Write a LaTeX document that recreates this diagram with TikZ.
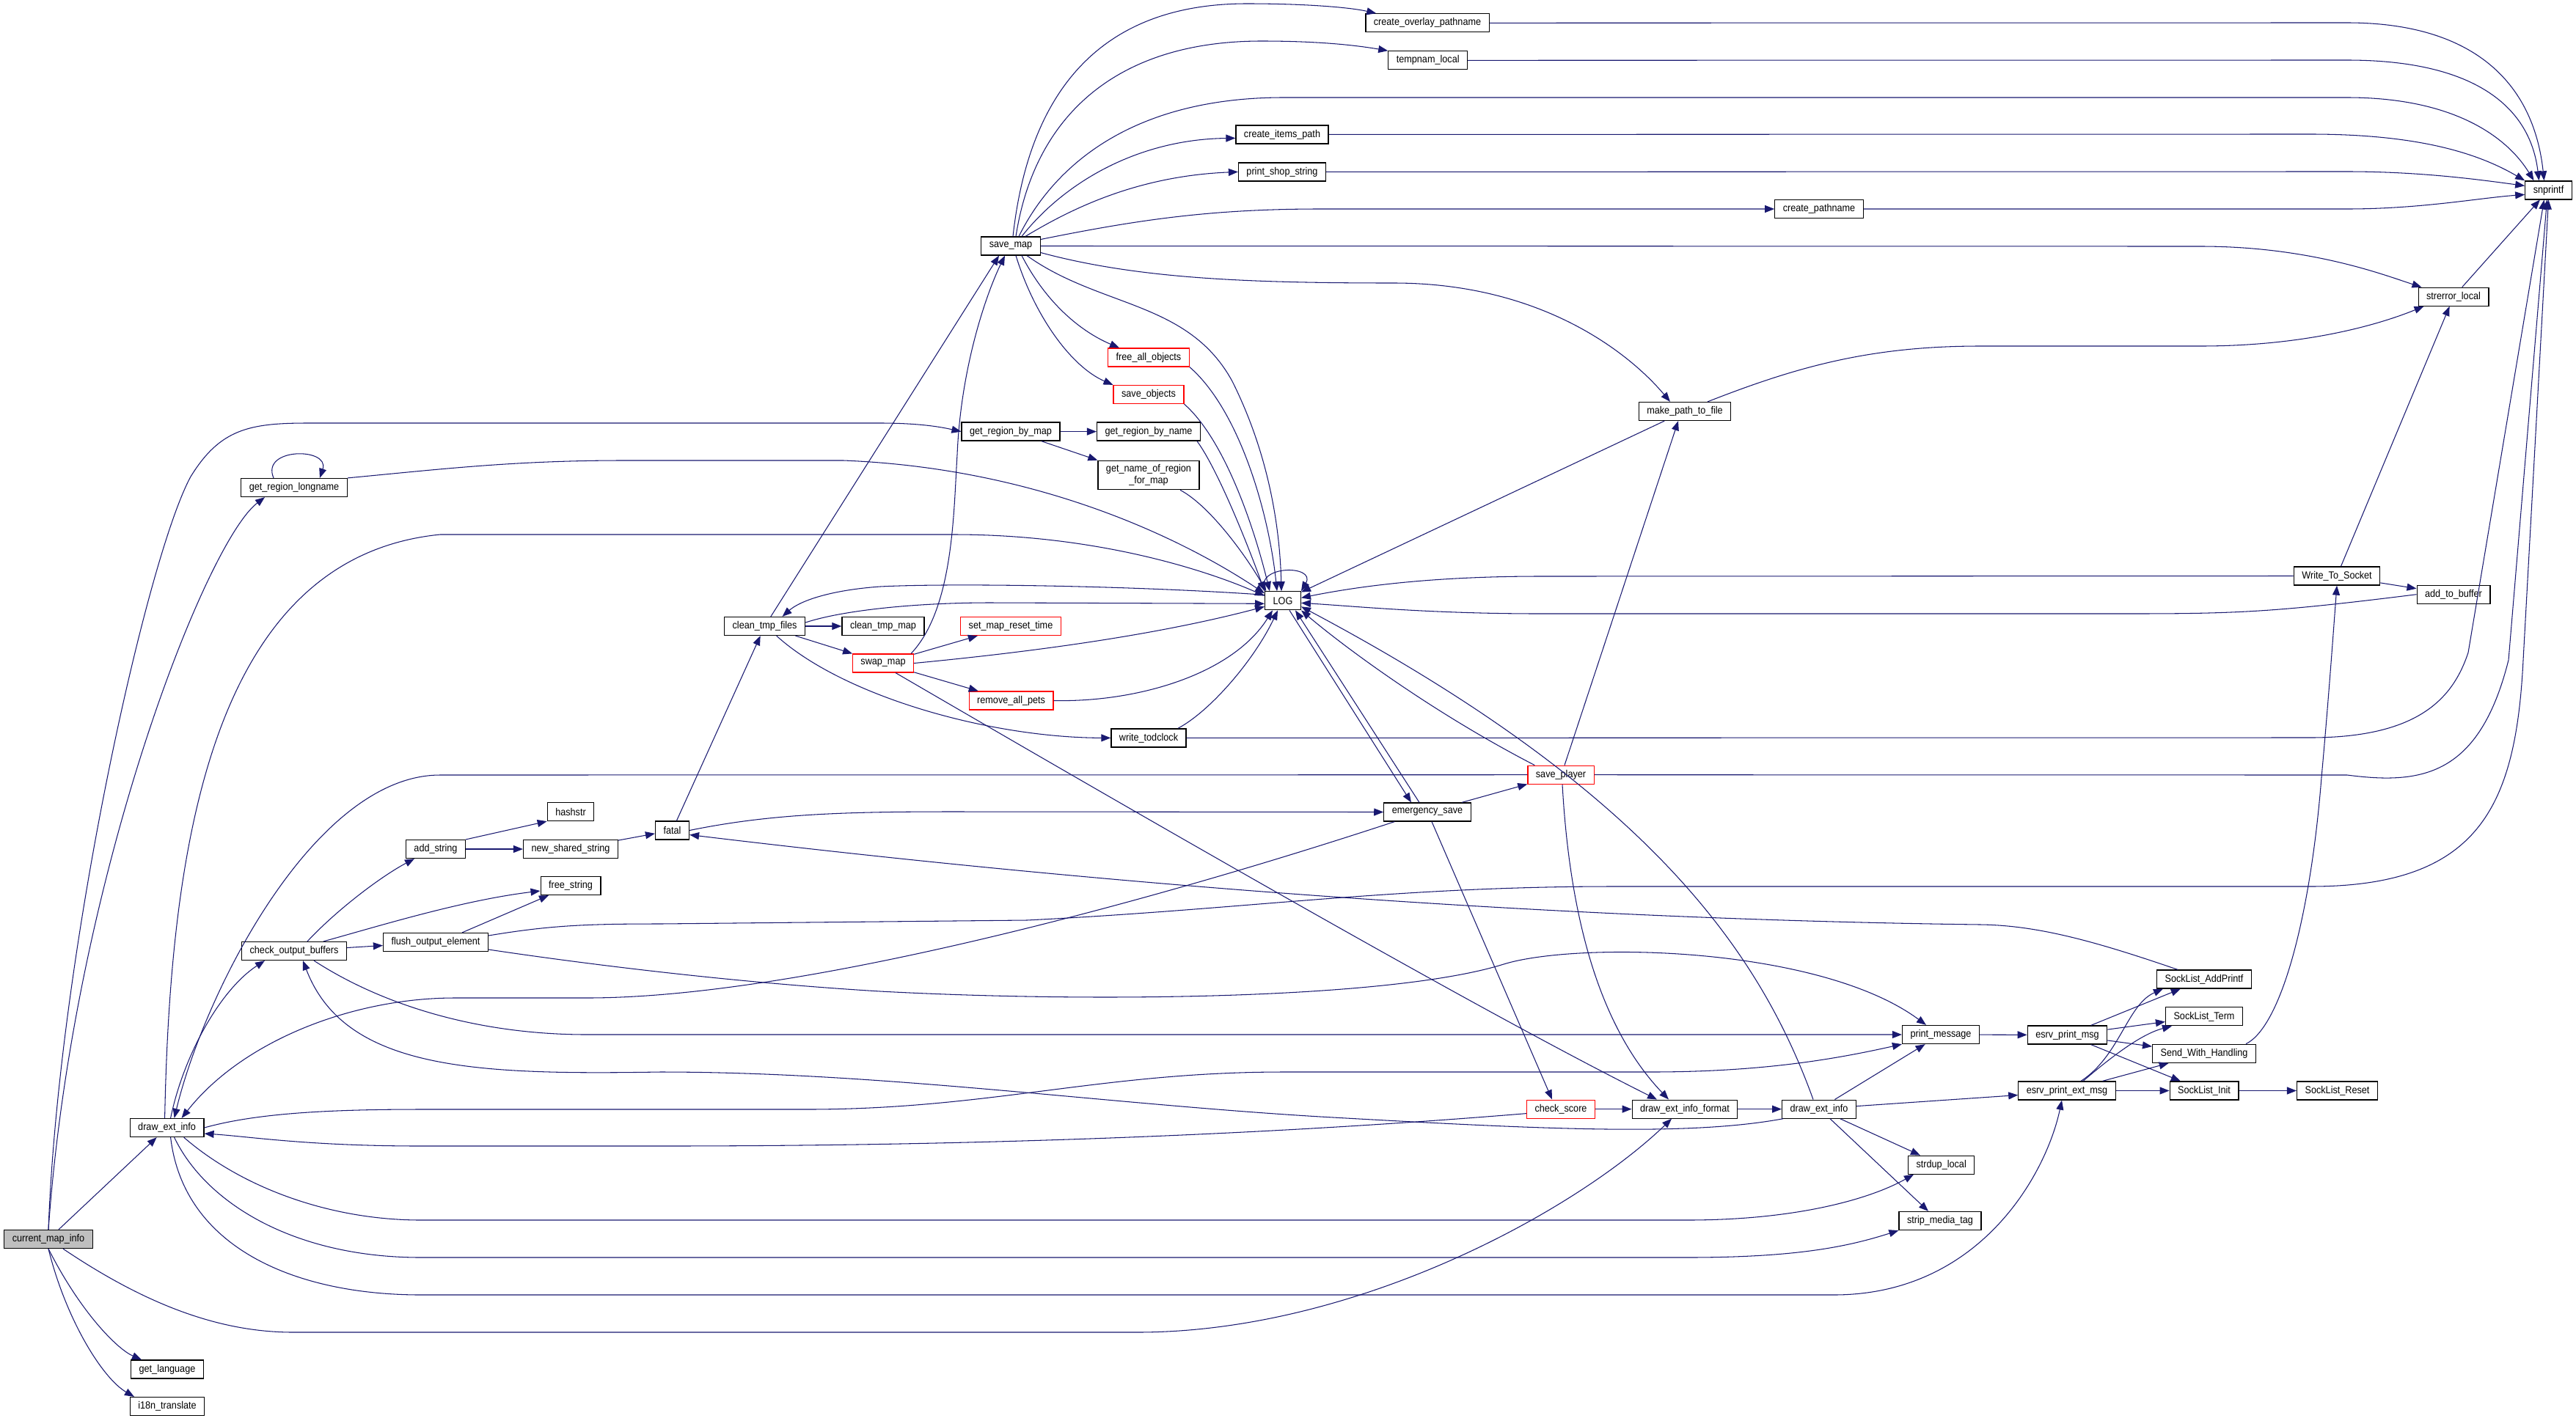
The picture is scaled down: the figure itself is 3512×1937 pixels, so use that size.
\documentclass[tikz,border=0pt]{standalone}
\usepackage{fontspec}
\newfontfamily\docfont[FakeStretch=0.9]{Liberation Sans}
\usepackage{tikz}
\usetikzlibrary{arrows.meta, calc}
\definecolor{edgeblue}{HTML}{191970}

\begin{document}
\begin{tikzpicture}[
      x=0.02cm, y=-0.02cm,
      fn/.style={
          rectangle,
          draw,
          line width=0.7pt,
          align=center,
          inner xsep=0.22cm,
          inner ysep=3pt,
          minimum height=0.5cm,
          fill=white,
          font={\docfont\fontsize{8pt}{9pt}\selectfont}
        },
      fnred/.style={
          fn,
          draw=red
        },
      fnmain/.style={
          fn,
          fill=gray!50
        },
      call/.style={
          -{Triangle[length=0.26cm,width=0.2cm]},
          draw=edgeblue,
          line width=0.6pt
        }
    ]
    \useasboundingbox (0,0) rectangle (3512,1937);

    % Nodes
    \node[fnmain] (cmi) at (66,1690) {current\_map\_info};
    \node[fn] (dei) at (227.6,1538) {draw\_ext\_info};
    \node[fn] (lang) at (228,1867.5) {get\_language};
    \node[fn] (itr) at (228,1918) {i18n\_translate};
    \node[fn] (grl) at (401,665) {get\_region\_longname};
    \node[fn] (cob) at (401,1297) {check\_output\_buffers};
    \node[fn] (adds) at (594,1158) {add\_string};
    \node[fn] (foe) at (594,1285) {flush\_output\_element};
    \node[fn] (hash) at (778,1107) {hashstr};
    \node[fn] (nss) at (778,1158) {new\_shared\_string};
    \node[fn] (frees) at (778,1208) {free\_string};
    \node[fn] (fatal) at (916.5,1132.5) {fatal};
    \node[fn] (ctf) at (1042.6,854) {clean\_tmp\_files};
    \node[fn] (ctm) at (1204,854) {clean\_tmp\_map};
    \node[fnred] (swap) at (1204,904.5) {swap\_map};
    \node[fn] (savemap) at (1378,335.5) {save\_map};
    \node[fn] (grbm) at (1378,588.6) {get\_region\_by\_map};
    \node[fnred] (smrt) at (1378,854) {set\_map\_reset\_time};
    \node[fnred] (rap) at (1378.6,955.5) {remove\_all\_pets};
    \node[fnred] (fao) at (1566,487.5) {free\_all\_objects};
    \node[fnred] (sobj) at (1566,538) {save\_objects};
    \node[fn] (grbn) at (1566,588.6) {get\_region\_by\_name};
    \node[fn] (gnor) at (1566,648) {get\_name\_of\_region\\\_for\_map};
    \node[fn] (wtc) at (1566,1006.4) {write\_todclock};
    \node[fn] (log) at (1749,819.3) {LOG};
    \node[fn] (cip) at (1748,183.4) {create\_items\_path};
    \node[fn] (pss) at (1748,234.4) {print\_shop\_string};
    \node[fn] (cop) at (1946,31.3) {create\_overlay\_pathname};
    \node[fn] (tnl) at (1946.7,82.3) {tempnam\_local};
    \node[fn] (esave) at (1946,1107.5) {emergency\_save};
    \node[fnred] (splayer) at (2128,1056.7) {save\_player};
    \node[fnred] (cscore) at (2128,1512.6) {check\_score};
    \node[fn] (mptf) at (2297,561) {make\_path\_to\_file};
    \node[fn] (deif) at (2297,1512.6) {draw\_ext\_info\_format};
    \node[fn] (cpn) at (2480,285) {create\_pathname};
    \node[fn] (dei2) at (2480,1512.6) {draw\_ext\_info};
    \node[fn] (pmsg) at (2646,1411) {print\_message};
    \node[fn] (sdl) at (2646.7,1588.7) {strdup\_local};
    \node[fn] (smt) at (2645,1665) {strip\_media\_tag};
    \node[fn] (epm) at (2818.5,1411.5) {esrv\_print\_msg};
    \node[fn] (epem) at (2818,1487.5) {esrv\_print\_ext\_msg};
    \node[fn] (slap) at (3005,1335.5) {SockList\_AddPrintf};
    \node[fn] (slt) at (3005,1386.3) {SockList\_Term};
    \node[fn] (swh) at (3005,1436.8) {Send\_With\_Handling};
    \node[fn] (sli) at (3005,1487.5) {SockList\_Init};
    \node[fn] (wts) at (3186,785.5) {Write\_To\_Socket};
    \node[fn] (slr) at (3186.5,1487.5) {SockList\_Reset};
    \node[fn] (serr) at (3345,404.7) {strerror\_local};
    \node[fn] (atb) at (3345,810.7) {add\_to\_buffer};
    \node[fn] (snp) at (3474.5,259.4) {snprintf};

    % Calls of current_map_info
    \draw[call] (cmi.north) .. controls (80,1300) and (200,760) .. (260,650) .. controls (300,585) and (340,577) .. (420,577) -- (1200,577) .. controls (1260,577) and (1290,584) .. (grbm.west);
    \draw[call] (cmi.north) .. controls (100,1200) and (280,740) .. ($(grl.south)+(-40,0)$);
    \draw[call] (cmi) -- (dei);
    \draw[call] (cmi.south) .. controls (110,1790) and (160,1840) .. ($(lang.north)+(-35,0)$);
    \draw[call] (cmi.south) .. controls (90,1800) and (140,1880) .. ($(itr.north)+(-45,0)$);
    \draw[call] ($(cmi.south)+(20,0)$) .. controls (200,1780) and (300,1817) .. (400,1817) -- (1550,1817) .. controls (1850,1817) and (2150,1650) .. ($(deif.south)+(-18,0)$);

    % Calls of draw_ext_info
    \draw[call] ($(dei.north)+(5,0)$) .. controls (250,1440) and (300,1350) .. ($(cob.south)+(-40,0)$);
    \draw[call] ($(dei.north)+(-3,0)$) .. controls (232,1150) and (290,760) .. (600,729) -- (1300,729) .. controls (1500,729) and (1650,780) .. (log.165);
    \draw[call] (dei.east) .. controls (350,1518) and (450,1513) .. (574,1513) -- (1100,1513) .. controls (1350,1513) and (1500,1462) .. (1750,1462) -- (2250,1462) .. controls (2400,1462) and (2500,1445) .. (pmsg.south west);
    \draw[call] ($(dei.south)+(23,0)$) .. controls (330,1620) and (450,1664) .. (574,1664) -- (2300,1664) .. controls (2450,1664) and (2550,1635) .. ($(sdl.south west)+(8,0)$);
    \draw[call] ($(dei.south)+(10,0)$) .. controls (280,1640) and (400,1715) .. (574,1715) -- (2300,1715) .. controls (2450,1715) and (2520,1700) .. (smt.south west);
    \draw[call] ($(dei.south)+(5,0)$) .. controls (250,1700) and (400,1766) .. (574,1766) -- (2500,1766) .. controls (2700,1766) and (2790,1600) .. ($(epem.south)+(-7,0)$);
    \draw[call] (splayer.west) -- (600,1057) .. controls (430,1057) and (280,1350) .. ($(dei.north)+(10,0)$);
    \draw[call] ($(esave.south west)+(15,0)$) .. controls (1600,1220) and (1100,1361) .. (800,1361) -- (620,1361) .. controls (480,1361) and (330,1420) .. ($(dei.north)+(20,0)$);
    \draw[call] ($(cscore.west)+(0,6)$) .. controls (1700,1550) and (1300,1563) .. (900,1563) -- (574,1563) .. controls (420,1563) and (340,1550) .. ($(dei.east)+(0,8)$);

    % Output buffers
    \draw[call] ($(cob.north)+(18,0)$) .. controls (460,1240) and (520,1195) .. ($(adds.south)+(-29,0)$);
    \draw[call] ($(cob.north)+(40,0)$) .. controls (520,1262) and (630,1228) .. ($(frees.west)+(0,7)$);
    \draw[call] (cob) -- (foe);
    \draw[call] ($(cob.south)+(27,0)$) .. controls (520,1370) and (650,1411) .. (800,1411) -- (pmsg.west);
    \draw[call] ($(dei2.south west)+(2,0)$) .. controls (2300,1550) and (2100,1540) .. (1800,1523) .. controls (1500,1505) and (1200,1462) .. (900,1462) .. controls (650,1466) and (470,1460) .. ($(cob.south)+(12,0)$);
    \draw[call] ($(foe.north)+(36,0)$) -- ($(frees.south)+(-30,0)$);
    \draw[call] ($(foe.east)+(0,-9)$) .. controls (750,1262) and (800,1260) .. (900,1260) -- (1400,1255) .. controls (1700,1240) and (1900,1209) .. (2200,1209) -- (3150,1209) .. controls (3380,1209) and (3430,1100) .. (3440,900) -- (snp.south);
    \draw[call] ($(foe.east)+(0,10)$) .. controls (800,1315) and (1000,1340) .. (1200,1352) .. controls (1500,1368) and (1900,1362) .. (2050,1315) .. controls (2150,1284) and (2480,1290) .. ($(pmsg.north)+(-20,0)$);
    \draw[call] (adds.north east) -- (hash.south west);
    \draw[call] (adds) -- (nss);
    \draw[call] (nss) -- (fatal);

    % fatal and clean_tmp_files
    \draw[call] (fatal) -- (ctf);
    \draw[call] (fatal.east) .. controls (1050,1110) and (1150,1107) .. (1300,1107) -- (esave.west);
    \draw[call] ($(slap.north)+(-36,0)$) .. controls (2860,1285) and (2780,1262) .. (2700,1261) .. controls (2300,1256) and (1700,1230) .. ($(fatal.east)+(0,6)$);
    \draw[call] (ctf) -- ($(savemap.south)+(-16,0)$);
    \draw[call] (ctf) -- (ctm);
    \draw[call] (ctf) -- (swap);
    \draw[call] ($(ctf.east)+(0,-5)$) .. controls (1150,832) and (1250,822) .. (1350,822) -- ($(log.west)+(0,4)$);
    \draw[call] ($(log.west)+(0,-8)$) .. controls (1550,799) and (1300,795) .. (1200,800) .. controls (1130,805) and (1090,820) .. ($(ctf.north)+(24,0)$);
    \draw[call] ($(ctf.south)+(16,0)$) .. controls (1150,950) and (1350,1006) .. (wtc.west);

    % swap_map
    \draw[call] (swap) -- (smrt);
    \draw[call] (swap) -- (rap);
    \draw[call] (swap.east) .. controls (1450,885) and (1600,860) .. ($(log.west)+(0,8)$);
    \draw[call] ($(swap.north)+(38,0)$) .. controls (1300,830) and (1300,700) .. (1305,620) .. controls (1310,500) and (1345,400) .. ($(savemap.south)+(-8,0)$);
    \draw[call] ($(swap.south)+(17,0)$) .. controls (1500,1080) and (2000,1370) .. ($(deif.north)+(-38,0)$);
    \draw[call] (rap.east) .. controls (1550,958) and (1680,920) .. ($(log.south)+(-14,0)$);
    \draw[call] ($(wtc.north)+(40,0)$) .. controls (1650,970) and (1710,900) .. ($(log.south)+(-7,0)$);
    \draw[call] (wtc.east) -- (3150,1006) .. controls (3300,1006) and (3345,950) .. (3365,890) -- ($(snp.south)+(-6,0)$);

    % save_map
    \draw[call] ($(savemap.north)+(3,0)$) .. controls (1400,150) and (1480,5) .. (1700,5) .. controls (1780,5) and (1840,10) .. ($(cop.north west)+(15,0)$);
    \draw[call] ($(savemap.north)+(7,0)$) .. controls (1410,160) and (1520,56) .. (1720,56) .. controls (1800,56) and (1850,62) .. (tnl.north west);
    \draw[call] ($(savemap.north)+(11,0)$) .. controls (1440,220) and (1550,133) .. (1750,133) -- (3200,133) .. controls (3350,133) and (3420,190) .. ($(snp.north)+(-20,0)$);
    \draw[call] ($(savemap.north)+(15,0)$) .. controls (1450,250) and (1550,190) .. ($(cip.west)+(0,5)$);
    \draw[call] ($(savemap.north)+(20,0)$) .. controls (1460,285) and (1550,240) .. (pss.west);
    \draw[call] ($(savemap.east)+(0,-9)$) .. controls (1550,300) and (1650,285) .. (1800,285) -- (cpn.west);
    \draw[call] (savemap.east) -- (3000,336) .. controls (3150,336) and (3250,375) .. ($(serr.north west)+(5,0)$);
    \draw[call] ($(savemap.east)+(0,9)$) .. controls (1550,380) and (1700,386) .. (1900,386) .. controls (2100,386) and (2220,480) .. ($(mptf.north)+(-20,0)$);
    \draw[call] ($(savemap.south)+(15,0)$) .. controls (1430,420) and (1480,455) .. ($(fao.north)+(-40,0)$);
    \draw[call] ($(savemap.south)+(7,0)$) .. controls (1410,430) and (1460,500) .. (sobj.north west);
    \draw[call] ($(savemap.south)+(22,0)$) .. controls (1500,420) and (1620,410) .. (1680,520) .. controls (1730,620) and (1745,720) .. ($(log.north)+(-2,0)$);
    \draw[call] (fao.south east) .. controls (1690,560) and (1730,700) .. ($(log.north)+(-8,0)$);
    \draw[call] (sobj.south east) .. controls (1670,600) and (1710,720) .. ($(log.north)+(-18,0)$);

    % regions
    \draw[call] ($(grbn.south east)+(-5,0)$) .. controls (1660,640) and (1700,740) .. (log.north west);
    \draw[call] ($(gnor.south)+(43,0)$) .. controls (1650,690) and (1700,760) .. (log.150);
    \draw[call] (grl.north east) .. controls (600,640) and (700,628) .. (850,628) -- (1150,628) .. controls (1450,640) and (1650,760) .. (log.158);
    \draw[call] (grbm) -- (grbn);
    \draw[call] ($(grbm.south)+(42,0)$) -- (gnor.north west);
    \draw[call] ($(grl.north)+(-28,0)$) .. controls (355,610) and (450,610) .. ($(grl.north)+(35,0)$);
    \draw[call] (log.north west) .. controls (1710,770) and (1795,770) .. (log.north east);

    % emergency_save and save_player
    \draw[call] (esave) -- (splayer);
    \draw[call] ($(esave.south)+(6,0)$) -- ($(cscore.north)+(-12,0)$);
    \draw[call] ($(log.south)+(9,0)$) -- ($(esave.north)+(-22,0)$);
    \draw[call] ($(esave.north)+(-11,0)$) -- ($(log.south)+(17,0)$);
    \draw[call] ($(splayer.north west)+(10,0)$) .. controls (1950,970) and (1830,880) .. (log.south east);
    \draw[call] ($(splayer.north)+(5,0)$) -- ($(mptf.south)+(-9,0)$);
    \draw[call] (splayer.east) -- (3200,1057) .. controls (3300,1070) and (3380,1060) .. (3420,900) -- ($(snp.south)+(-2,0)$);
    \draw[call] ($(splayer.south)+(2,0)$) .. controls (2140,1250) and (2180,1400) .. ($(deif.north)+(-22,0)$);
    \draw[call] (mptf) -- (log);
    \draw[call] ($(mptf.north)+(31,0)$) .. controls (2450,500) and (2550,472) .. (2700,472) -- (3000,472) .. controls (3150,472) and (3250,440) .. ($(serr.south west)+(8,0)$);

    % draw_ext_info_format and the second draw_ext_info
    \draw[call] (cscore) -- (deif);
    \draw[call] (deif) -- (dei2);
    \draw[call] ($(dei2.north)+(-8,0)$) .. controls (2400,1300) and (2250,1080) .. ($(log.east)+(0,8)$);
    \draw[call] (dei2) -- (pmsg);
    \draw[call] ($(dei2.east)+(0,-4)$) -- ($(epem.west)+(0,6)$);
    \draw[call] (dei2) -- (sdl);
    \draw[call] ($(dei2.south)+(15,0)$) -- ($(smt.north)+(-16,0)$);

    % socket side
    \draw[call] (pmsg) -- (epm);
    \draw[call] (epm) -- (slap);
    \draw[call] (epm) -- (slt);
    \draw[call] (epm) -- (swh);
    \draw[call] (epm) -- (sli);
    \draw[call] ($(epem.north)+(19,0)$) .. controls (2890,1440) and (2900,1370) .. ($(slap.south)+(-56,0)$);
    \draw[call] ($(epem.north)+(22,0)$) .. controls (2880,1440) and (2920,1410) .. ($(slt.south)+(-44,0)$);
    \draw[call] (epem) -- (swh);
    \draw[call] (epem) -- (sli);
    \draw[call] (sli) -- (slr);
    \draw[call] ($(swh.north)+(57,0)$) .. controls (3110,1400) and (3150,1250) .. (3165,1060) .. controls (3175,950) and (3182,850) .. (wts.south);
    \draw[call] (wts) -- (serr);
    \draw[call] (wts) -- (atb);
    \draw[call] (wts.west) -- (2100,786) .. controls (1950,786) and (1850,800) .. ($(log.east)+(0,-4)$);
    \draw[call] (atb.west) .. controls (3100,835) and (3050,837) .. (2900,837) -- (2100,837) .. controls (1950,837) and (1850,827) .. ($(log.east)+(0,3)$);
    \draw[call] (serr) -- (snp);

    % into snprintf
    \draw[call] (cop.east) -- (3200,31) .. controls (3380,31) and (3455,120) .. ($(snp.north)+(-6,0)$);
    \draw[call] (tnl.east) -- (3200,82) .. controls (3380,82) and (3450,150) .. ($(snp.north)+(-13,0)$);
    \draw[call] (cip.east) -- (3150,183) .. controls (3300,183) and (3380,210) .. (snp.north west);
    \draw[call] (pss.east) -- (3200,234) .. controls (3300,234) and (3380,245) .. ($(snp.west)+(0,-6)$);
    \draw[call] (cpn.east) -- (3200,285) .. controls (3300,285) and (3380,270) .. ($(snp.west)+(0,6)$);
  \end{tikzpicture}
\end{document}
